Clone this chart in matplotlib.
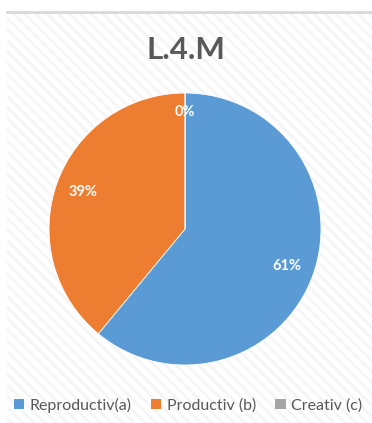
import matplotlib
matplotlib.use("Agg")
import matplotlib.pyplot as plt
from matplotlib.patches import Rectangle

plt.rcParams['font.family'] = ['Lato', 'DejaVu Sans']
plt.rcParams['hatch.linewidth'] = 2.0

title = "L.4.M"
categories = ["Reproductiv(a)", "Productiv (b)", "Creativ (c)"]
values = [61, 39, 0]
colors = ["#5B9BD5", "#ED7D31", "#A5A5A5"]
text_color = "#595959"

W, H = 372, 423
fig = plt.figure(figsize=(W / 100, H / 100), dpi=100)
fig.patch.set_facecolor("white")

# chart area: faint diagonal stripes with a grey rule along the top
bg = Rectangle((7 / W, 0), 1 - 7 / W, 1 - 12 / H, transform=fig.transFigure,
               facecolor="white", edgecolor="#F5F5F5", hatch="\\\\\\", lw=0, zorder=-5)
fig.patches.append(bg)
fig.add_artist(plt.Line2D([7 / W, 1], [1 - 12 / H, 1 - 12 / H], transform=fig.transFigure,
                          color="#D9D9D9", lw=2, zorder=-4))

cx, cy, r = 185, 229, 136
ax = fig.add_axes([(cx - r) / W, (H - cy - r) / H, 2 * r / W, 2 * r / H], zorder=2)
ax.patch.set_alpha(0)
wedges, texts, autotexts = ax.pie(
    values, colors=colors, startangle=90, counterclock=False,
    autopct=lambda p: f"{p:.0f}%", pctdistance=0.8,
    wedgeprops=dict(linewidth=0.6, edgecolor="white"),
    textprops=dict(color="white", fontsize=10.5, fontweight="bold"))
autotexts[2].set_position((0, 0.86))
ax.set_xlim(-1, 1)
ax.set_ylim(-1, 1)
ax.set_aspect("equal")
ax.axis("off")

fig.text(186 / W, 1 - 50 / H, title, ha="center", va="center",
         fontsize=22.5, fontweight="bold", color=text_color)

handles = [Rectangle((0, 0), 1, 1, facecolor=c, edgecolor="none") for c in colors]
fig.legend(handles, categories, loc="center", bbox_to_anchor=(188 / W, 1 - 405 / H),
           ncol=3, frameon=False, fontsize=11.5, labelcolor=text_color,
           handlelength=0.65, handleheight=0.65, handletextpad=0.35, columnspacing=1.2)

fig.savefig("out.png", dpi=100, facecolor="white")
